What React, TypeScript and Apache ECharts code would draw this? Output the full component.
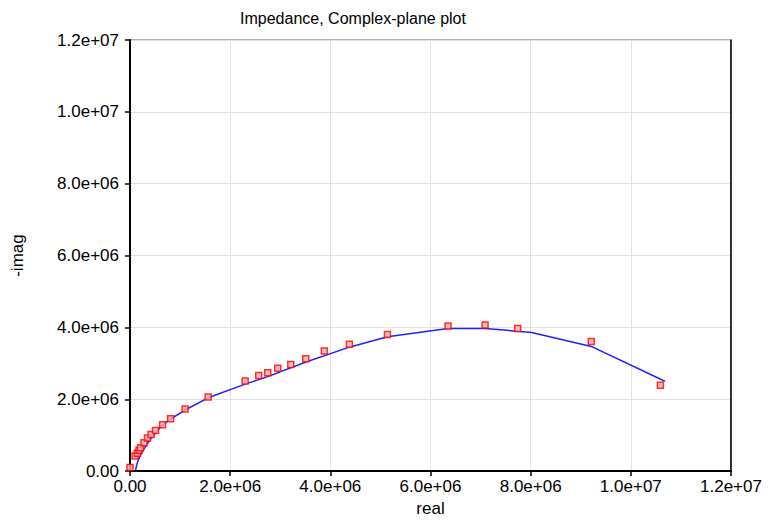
import React, { useEffect, useRef } from "react";
import * as echarts from "echarts";

const titleText = "Impedance, Complex-plane plot";
const xAxisName = "real";
const yAxisName = "-imag";

// measured points (real, -imag) in ohms
const measuredReal = [0, 0.1e6, 0.146e6, 0.18e6, 0.21e6, 0.28e6, 0.35e6, 0.42e6, 0.51e6, 0.65e6, 0.81e6, 1.1e6, 1.56e6, 2.3e6, 2.57e6, 2.75e6, 2.95e6, 3.21e6, 3.51e6, 3.88e6, 4.38e6, 5.14e6, 6.35e6, 7.09e6, 7.74e6, 9.21e6, 10.59e6];
const measuredImag = [0.1e6, 0.42e6, 0.5e6, 0.58e6, 0.65e6, 0.79e6, 0.92e6, 1.02e6, 1.13e6, 1.29e6, 1.46e6, 1.73e6, 2.06e6, 2.51e6, 2.66e6, 2.74e6, 2.86e6, 2.97e6, 3.13e6, 3.34e6, 3.53e6, 3.8e6, 4.04e6, 4.07e6, 3.97e6, 3.61e6, 2.39e6];

// fitted curve
const fitReal = [0.11e6, 0.15e6, 0.2e6, 0.28e6, 0.4e6, 0.63e6, 0.81e6, 1.1e6, 1.56e6, 2.3e6, 2.75e6, 3.5e6, 4.38e6, 5.14e6, 6.35e6, 7.09e6, 8.02e6, 9.21e6, 10.68e6];
const fitImag = [0.03e6, 0.25e6, 0.42e6, 0.62e6, 0.88e6, 1.26e6, 1.45e6, 1.7e6, 2.04e6, 2.42e6, 2.63e6, 3.03e6, 3.45e6, 3.74e6, 3.97e6, 3.97e6, 3.86e6, 3.47e6, 2.5e6];

const axisMin = 0;
const axisMax = 1.2e7;
const axisInterval = 2e6;

const fmt = (v: number) => {
  if (v === 0) return "0.00";
  const s = v.toExponential(1);
  return s.replace(/e([+-])(\d)$/, "e$10$2");
};

const FONT = "'Liberation Sans', Arial, sans-serif";

export default function App() {
  const ref = useRef<HTMLDivElement>(null);
  useEffect(() => {
    if (!ref.current) return;
    const chart = echarts.init(ref.current, undefined, { renderer: "svg" });
    const measured = measuredReal.map((x, i) => [x, measuredImag[i]]);
    const fit = fitReal.map((x, i) => [x, fitImag[i]]);
    chart.setOption({
      animation: false,
      backgroundColor: "#ffffff",
      textStyle: { fontFamily: FONT },
      title: {
        text: titleText,
        left: 348,
        top: 5,
        textAlign: "center",
        textStyle: { fontSize: 16, fontWeight: "normal", color: "#000", fontFamily: FONT },
      },
      grid: {
        left: 130,
        right: 37,
        top: 40,
        bottom: 45,
        show: true,
        borderColor: "#666",
        borderWidth: 1,
      },
      xAxis: {
        type: "value",
        min: axisMin,
        max: axisMax,
        interval: axisInterval,
        name: xAxisName,
        nameLocation: "middle",
        nameGap: 28,
        nameTextStyle: { fontSize: 17, color: "#000", fontFamily: FONT },
        axisLine: { show: true, onZero: false, lineStyle: { color: "#000", width: 2 } },
        axisTick: { show: true, length: 5, lineStyle: { color: "#000", width: 1.5 } },
        axisLabel: { formatter: fmt, fontSize: 17, color: "#000", margin: 7, fontFamily: FONT },
        splitLine: { show: true, lineStyle: { color: "#e2e2e2", width: 1 } },
      },
      yAxis: [
        {
          type: "value",
          min: axisMin,
          max: axisMax,
          interval: axisInterval,
          name: yAxisName,
          nameLocation: "middle",
          nameGap: 104,
          nameRotate: 90,
          nameTextStyle: { fontSize: 17, color: "#000", fontFamily: FONT },
          axisLine: { show: true, onZero: false, lineStyle: { color: "#000", width: 2 } },
          axisTick: { show: true, length: 5, lineStyle: { color: "#000", width: 1.5 } },
          axisLabel: { formatter: fmt, fontSize: 17, color: "#000", margin: 11, fontFamily: FONT },
          splitLine: { show: true, lineStyle: { color: "#e2e2e2", width: 1 } },
        },
        {
          type: "value",
          position: "right",
          min: axisMin,
          max: axisMax,
          interval: axisInterval,
          axisLine: { show: true, onZero: false, lineStyle: { color: "#000", width: 1.5 } },
          axisTick: { show: false },
          axisLabel: { show: false },
          splitLine: { show: false },
        },
      ],
      series: [
        {
          type: "line",
          data: fit,
          showSymbol: false,
          symbol: "none",
          lineStyle: { color: "#2020ff", width: 1.5 },
          z: 2,
        },
        {
          type: "scatter",
          data: measured,
          symbol: "rect",
          symbolSize: 6,
          itemStyle: { color: "#ffb0b0", borderColor: "#ff0000", borderWidth: 1.5 },
          z: 3,
        },
      ],
    });
    return () => chart.dispose();
  }, []);
  return <div ref={ref} style={{ width: 768, height: 522, position: "absolute", left: 0, top: 0 }} />;
}
